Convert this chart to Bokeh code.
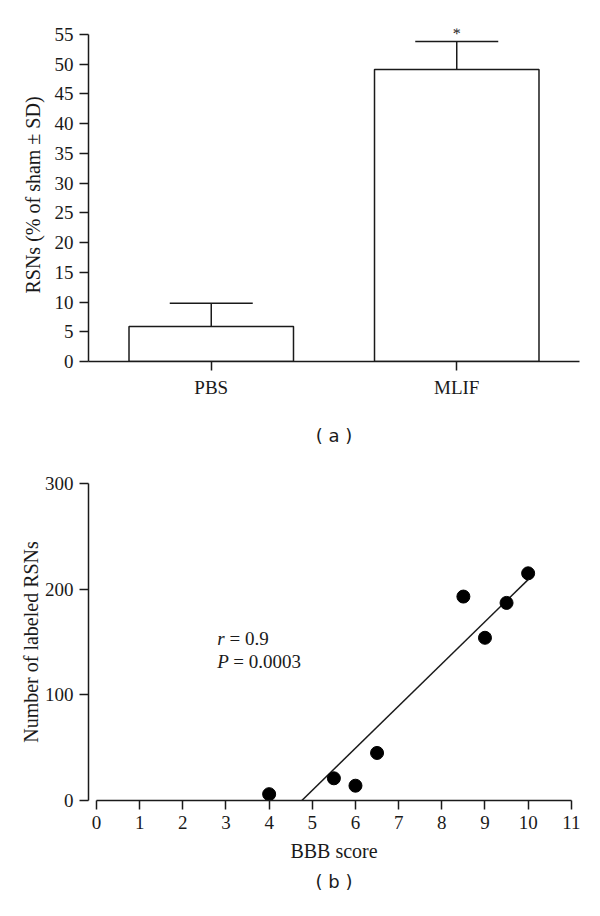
import numpy as np
from bokeh.plotting import figure
from bokeh.layouts import column
from bokeh.models import (Label, FixedTicker, Range1d, ColumnDataSource,
                          Whisker, TeeHead, LinearAxis)
from bokeh.embed import file_html
from bokeh.resources import INLINE

# ---- panel (a) data ----
groups = ["PBS", "MLIF"]
means = [5.9, 49.1]
sds = [3.9, 4.7]
ya_ticks = [0, 5, 10, 15, 20, 25, 30, 35, 40, 45, 50, 55]

# ---- panel (b) data ----
bbb = [4, 5.5, 6, 6.5, 8.5, 9, 9.5, 10]
rsn = [6, 21, 14, 45, 193, 154, 187, 215]
xb_ticks = [0, 1, 2, 3, 4, 5, 6, 7, 8, 9, 10, 11]
yb_ticks = [0, 100, 200, 300]

SERIF = "Liberation Serif"
SANS = "DejaVu Sans"
INK = "#1a1a1a"


def style(p):
    p.outline_line_color = None
    p.xgrid.visible = False
    p.ygrid.visible = False
    for ax in p.axis:
        ax.axis_line_color = INK
        ax.axis_line_width = 1.5
        ax.major_tick_line_color = INK
        ax.major_tick_line_width = 1.5
        ax.major_tick_out = 9
        ax.major_tick_in = 0
        ax.minor_tick_line_color = None
        ax.major_label_text_font = SERIF
        ax.major_label_text_font_size = "19px"
        ax.major_label_text_color = INK
        ax.major_label_standoff = 6
        ax.axis_label_text_font = SERIF
        ax.axis_label_text_font_size = "20px"
        ax.axis_label_text_font_style = "normal"
        ax.axis_label_text_color = INK


def caption_axis(text, standoff):
    return LinearAxis(ticker=FixedTicker(ticks=[]),
                      axis_line_color=None, major_tick_line_color=None,
                      minor_tick_line_color=None, major_tick_out=0, major_tick_in=0,
                      major_label_text_font_size="0px",
                      axis_label=text, axis_label_text_font=SANS,
                      axis_label_text_font_size="18px", axis_label_text_font_style="normal",
                      axis_label_text_color=INK, axis_label_standoff=standoff)


# ================= panel (a) =================
xa = [i + 0.5 for i in range(len(groups))]
pa = figure(x_range=Range1d(0, len(groups)), y_range=Range1d(0, 56),
            width=600, height=450,
            min_border_left=88, min_border_right=21,
            min_border_top=28, min_border_bottom=89,
            output_backend="svg", toolbar_location=None)
style(pa)

tops = [m + s for m, s in zip(means, sds)]
src_a = ColumnDataSource(dict(x=xa, top=means, upper=tops))
pa.vbar(x="x", top="top", width=0.67, source=src_a,
        fill_color="white", line_color=INK, line_width=1.5)
pa.add_layout(Whisker(base="x", lower="top", upper="upper", source=src_a,
                      line_color=INK, line_width=1.5, lower_head=None,
                      upper_head=TeeHead(size=83, line_color=INK, line_width=1.5)))

pa.xaxis.ticker = FixedTicker(ticks=xa)
pa.xaxis.major_label_overrides = {x: g for x, g in zip(xa, groups)}
pa.yaxis.ticker = FixedTicker(ticks=ya_ticks)
pa.yaxis.bounds = (0, 55)
pa.yaxis.axis_label = "RSNs (% of sham ± SD)"
pa.yaxis.axis_label_standoff = 8

star_i = groups.index("MLIF")
pa.text(x=[xa[star_i]], y=[tops[star_i]], text=["*"], text_align="center",
        text_baseline="bottom", text_font_size="16px", text_color=INK,
        text_font={"value": SERIF})

pa.add_layout(caption_axis("( a )", 24), "below")

# ================= panel (b) =================
pb = figure(x_range=Range1d(-0.185, 11.19), y_range=Range1d(0, 300),
            width=600, height=460,
            min_border_left=88, min_border_right=21,
            min_border_top=33, min_border_bottom=110,
            output_backend="svg", toolbar_location=None)
style(pb)
pb.xaxis.ticker = FixedTicker(ticks=xb_ticks)
pb.xaxis.bounds = (0, 11)
pb.yaxis.ticker = FixedTicker(ticks=yb_ticks)
pb.xaxis.axis_label = "BBB score"
pb.xaxis.axis_label_standoff = 8
pb.yaxis.axis_label = "Number of labeled RSNs"
pb.yaxis.axis_label_standoff = 0

slope, intercept = np.polyfit(bbb, rsn, 1)
x_start = -intercept / slope
x_end = max(bbb)
pb.line([x_start, x_end], [0, slope * x_end + intercept], line_color=INK, line_width=1.5)
pb.scatter(bbb, rsn, size=13, fill_color="black", line_color="black")

for txt, x, y, st in [("r", 2.80, 153, "italic"), ("= 0.9", 3.08, 153, "normal"),
                      ("P", 2.80, 132, "italic"), ("= 0.0003", 3.17, 132, "normal")]:
    pb.add_layout(Label(x=x, y=y, text=txt, text_align="left", text_baseline="middle",
                        text_font=SERIF, text_font_size="19px", text_font_style=st,
                        text_color=INK))

pb.add_layout(caption_axis("( b )", 6), "below")

layout = column(pa, pb, spacing=0)
open("out.html", "w").write(file_html(layout, INLINE))
